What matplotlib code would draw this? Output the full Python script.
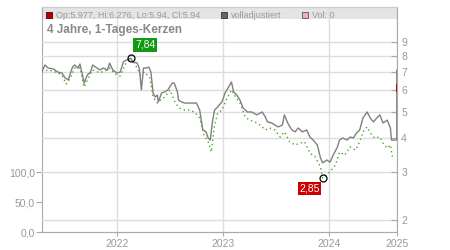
import matplotlib
matplotlib.use("Agg")
import matplotlib.pyplot as plt
from matplotlib.patches import Rectangle
from matplotlib.ticker import FixedLocator, NullLocator

plt.rcParams['font.family'] = ['Liberation Sans', 'DejaVu Sans']

# ---- data (fractional years, price) ----
adj_t = [2021.29, 2021.32, 2021.35, 2021.40, 2021.44, 2021.48, 2021.51, 2021.54, 2021.58, 2021.60,
         2021.63, 2021.65, 2021.67, 2021.69, 2021.72, 2021.75, 2021.77, 2021.81, 2021.84, 2021.87,
         2021.91, 2021.93, 2021.96, 2022.00, 2022.03, 2022.06, 2022.09, 2022.13, 2022.15, 2022.19,
         2022.21, 2022.23, 2022.25, 2022.28, 2022.30, 2022.32, 2022.34, 2022.36, 2022.38, 2022.39,
         2022.42, 2022.45, 2022.48, 2022.52, 2022.54, 2022.57, 2022.58, 2022.61, 2022.64, 2022.67,
         2022.72, 2022.75, 2022.78, 2022.81, 2022.84, 2022.86, 2022.88, 2022.90, 2022.92, 2022.95,
         2022.99, 2023.02, 2023.05, 2023.08, 2023.10, 2023.13, 2023.16, 2023.19, 2023.23, 2023.27,
         2023.32, 2023.37, 2023.40, 2023.42, 2023.46, 2023.49, 2023.52, 2023.56, 2023.58, 2023.61,
         2023.65, 2023.68, 2023.71, 2023.75, 2023.79, 2023.82, 2023.85, 2023.89, 2023.92, 2023.94,
         2023.98, 2024.01, 2024.04, 2024.08, 2024.10, 2024.13, 2024.17, 2024.20, 2024.23, 2024.26,
         2024.29, 2024.32, 2024.36, 2024.39, 2024.42, 2024.45, 2024.48, 2024.51, 2024.55, 2024.58,
         2024.59, 2024.62, 2024.64, 2024.64]
adj_v = [6.98, 7.41, 7.22, 7.16, 6.98, 6.92, 6.64, 6.53, 7.28, 7.41,
         7.22, 7.47, 6.92, 6.36, 6.81, 6.98, 7.41, 7.22, 7.10, 7.22,
         7.10, 7.53, 7.10, 6.92, 6.98, 7.60, 7.73, 7.84, 7.60, 7.53,
         7.22, 6.00, 7.22, 7.22, 7.28, 6.98, 5.85, 5.65, 5.75, 5.42,
         5.85, 5.90, 6.00, 6.36, 6.36, 5.90, 5.51, 5.42, 5.37, 5.37,
         5.37, 5.37, 5.06, 4.28, 4.21, 4.00, 3.93, 4.58, 5.06, 5.20,
         5.42, 5.85, 6.12, 6.42, 5.90, 5.75, 5.51, 5.15, 4.98, 4.98,
         4.86, 4.98, 4.77, 4.58, 4.54, 4.46, 4.39, 4.46, 4.86, 4.54,
         4.28, 4.21, 4.35, 4.21, 4.28, 4.03, 3.93, 3.77, 3.38, 3.24,
         3.32, 3.26, 3.46, 3.71, 3.93, 4.00, 3.93, 4.03, 4.00, 4.17,
         4.28, 4.73, 4.98, 4.73, 4.58, 4.73, 4.86, 4.54, 4.65, 4.35,
         3.93, 3.93, 3.93, 7.10]

raw_t = [2021.29, 2021.35, 2021.42, 2021.48, 2021.52, 2021.56, 2021.60, 2021.65, 2021.69, 2021.73,
         2021.77, 2021.82, 2021.87, 2021.93, 2021.98, 2022.03, 2022.08, 2022.13, 2022.17, 2022.22,
         2022.26, 2022.31, 2022.34, 2022.38, 2022.41, 2022.45, 2022.50, 2022.55, 2022.59, 2022.64,
         2022.69, 2022.74, 2022.78, 2022.82, 2022.86, 2022.89, 2022.92, 2022.95, 2022.99, 2023.03,
         2023.08, 2023.12, 2023.16, 2023.21, 2023.25, 2023.30, 2023.35, 2023.40, 2023.44, 2023.49,
         2023.54, 2023.58, 2023.63, 2023.68, 2023.73, 2023.77, 2023.82, 2023.87, 2023.92, 2023.94,
         2023.98, 2024.01, 2024.06, 2024.10, 2024.15, 2024.20, 2024.25, 2024.29, 2024.32, 2024.36,
         2024.39, 2024.43, 2024.48, 2024.51, 2024.55, 2024.58, 2024.60]
raw_v = [6.98, 7.10, 6.98, 6.81, 6.31, 6.64, 7.22, 7.22, 6.15, 6.64,
         7.10, 6.98, 6.98, 7.22, 6.87, 6.75, 7.47, 7.84, 7.47, 6.81,
         6.98, 6.64, 5.65, 5.37, 5.51, 5.65, 6.00, 5.37, 5.15, 5.06,
         5.06, 4.94, 4.73, 4.10, 3.87, 3.55, 4.46, 4.94, 5.06, 5.51,
         6.00, 5.65, 5.37, 4.77, 4.65, 4.58, 4.46, 4.28, 4.35, 4.28,
         4.03, 4.21, 3.87, 3.77, 3.83, 3.87, 3.52, 3.41, 3.13, 2.85,
         2.95, 3.00, 3.18, 3.55, 3.46, 3.71, 3.61, 3.87, 4.21, 4.39,
         4.17, 4.00, 4.03, 3.83, 3.67, 3.77, 3.38]

last_t = 2024.64
last_ohlc = [5.977, 6.276, 5.94, 5.94]

hi_t, hi_v, hi_label = 2022.13, 7.84, "7,84"
lo_t, lo_v, lo_label = 2023.94, 2.85, "2,85"

year_ticks = [2022, 2023, 2024, 2024.642]
year_labels = ["2022", "2023", "2024", "2025"]
price_ticks = [2, 3, 4, 5, 6, 7, 8, 9]
vol_ticks = [0, 50, 100]
vol_labels = ["0,0", "50,0", "100,0"]

title = "4 Jahre, 1-Tages-Kerzen"
legend_items = [("Op:5.977, Hi:6.276, Lo:5.94, Cl:5.94", "#b00000", "#550000"),
                ("volladjustiert", "#666666", "#333333"),
                ("Vol: 0", "#f0b0b8", "#555555")]

# ---- figure ----
W, H = 450, 250
fig = plt.figure(figsize=(4.5, 2.5), dpi=100)
L, R, B, T = 42, 397, 232, 7
ax = fig.add_axes([L / W, 1 - B / H, (R - L) / W, (B - T) / H])
ax2 = ax.twinx()

tick_col = "#999999"
grid_col = "#dddddd"
spine_col = "#aaaaaa"

ax.set_xlim(2021.292, 2024.642)
ax.set_ylim(0, 375)
ax.set_facecolor("white")
ax.yaxis.set_major_locator(FixedLocator(vol_ticks))
ax.set_yticklabels(vol_labels)
ax.set_xticks(year_ticks)
ax.set_xticklabels(year_labels)
ax.grid(axis="x", color=grid_col, lw=1)
ax.tick_params(axis="x", colors=spine_col, labelcolor=tick_col, labelsize=7.5, length=3, pad=2)
ax.tick_params(axis="y", colors=spine_col, labelcolor=tick_col, labelsize=7.5, length=4, pad=1)

ax2.set_yscale("log")
ax2.set_ylim(1.807, 12.09)
ax2.yaxis.set_major_locator(FixedLocator(price_ticks))
ax2.yaxis.set_minor_locator(NullLocator())
ax2.set_yticklabels([str(v) for v in price_ticks])
ax2.grid(axis="y", which="major", color=grid_col, lw=1)
ax2.tick_params(axis="y", direction="in", colors=spine_col, labelcolor=tick_col,
                labelsize=7.5, length=4, pad=3)

for a in (ax, ax2):
    for s in a.spines.values():
        s.set_color(spine_col)
    a.spines["top"].set_color("#cccccc")
ax.spines["right"].set_visible(False)
ax2.spines["left"].set_visible(False)

# header band
ax.add_patch(Rectangle((0, 1 - 12 / 225), 1, 12 / 225, transform=ax.transAxes,
                       facecolor="#e4e4e4", edgecolor="none", zorder=0.5))

# series
ax2.plot(raw_t, raw_v, color="#44aa22", lw=1.0, linestyle=(0, (1, 2.2)), zorder=3)
ax2.plot(adj_t, adj_v, color="#808080", lw=1.0, zorder=4)
ax2.plot([last_t, last_t], [last_ohlc[2], last_ohlc[1]], color="#dd0000", lw=1.5, zorder=5)

# extreme markers
ax2.plot([hi_t], [hi_v], marker="o", ms=5, mfc="none", mec="black", mew=0.9, zorder=6)
ax2.plot([lo_t], [lo_v], marker="o", ms=5, mfc="none", mec="black", mew=0.9, zorder=6)
ax2.annotate(hi_label, (hi_t, hi_v), xytext=(3, 6), textcoords="offset points",
             color="white", fontsize=7.5, ha="left", va="bottom", zorder=7,
             bbox=dict(boxstyle="square,pad=0.15", fc="#119911", ec="none"))
ax2.annotate(lo_label, (lo_t, lo_v), xytext=(-2, -4), textcoords="offset points",
             color="white", fontsize=7.5, ha="right", va="top", zorder=7,
             bbox=dict(boxstyle="square,pad=0.15", fc="#cc0000", ec="none"))

# title & legend
fig.text(47 / W, 1 - 30 / H, title, fontsize=8.5, fontweight="bold", color="#888888",
         ha="left", va="center")
lx = [46, 221, 302]
for (txt, fc, ec), x0 in zip(legend_items, lx):
    fig.patches.append(Rectangle((x0 / W, 1 - 18 / H), 6 / W, 6 / H, transform=fig.transFigure,
                                 facecolor=fc, edgecolor=ec, lw=0.6, figure=fig))
    fig.text((x0 + 10) / W, 1 - 15 / H, txt, fontsize=6.5, color="#999999", ha="left", va="center")

fig.savefig("out.png", dpi=100)
